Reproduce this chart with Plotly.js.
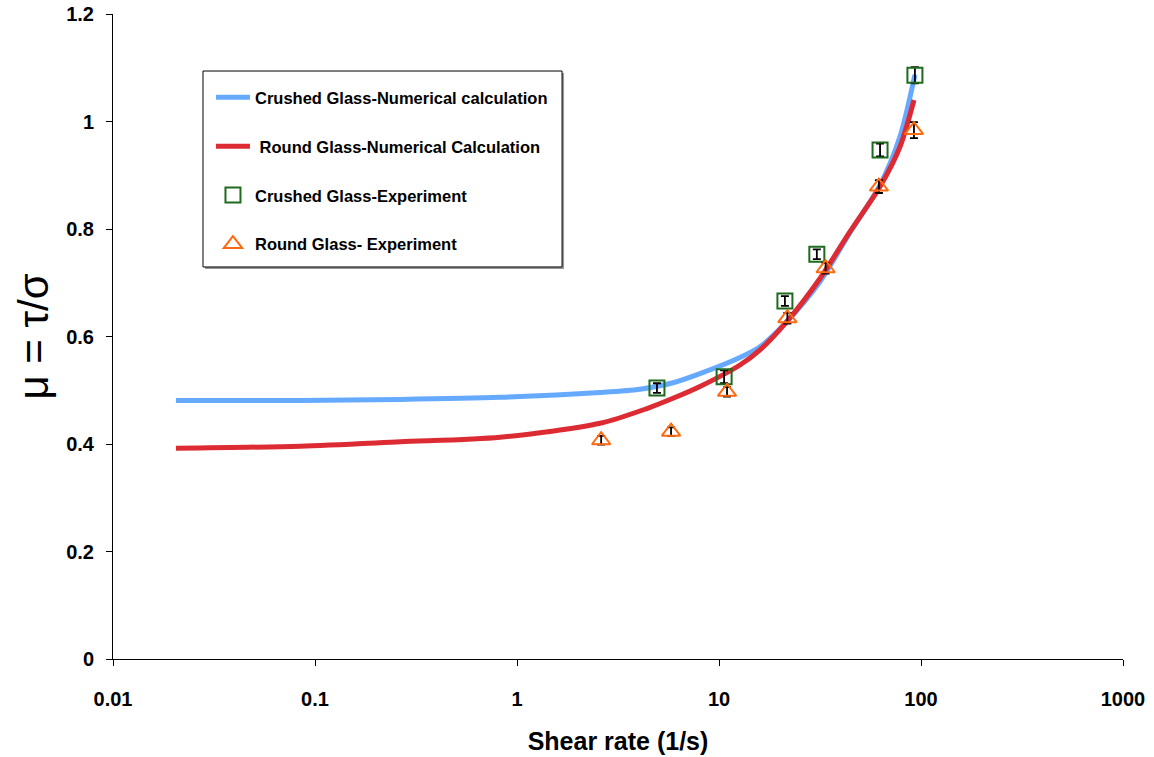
<!DOCTYPE html>
<html>
<head>
<meta charset="utf-8">
<script src="https://cdn.plot.ly/plotly-3.0.1.min.js"></script>
<style>html,body{margin:0;padding:0;background:#fff;}#chart{width:1154px;height:757px;}</style>
</head>
<body>
<div id="chart"></div>
<script>
// Numerical calculation curves
const crushedCalcX = [0.0205, 0.0844, 0.264, 0.824, 2.58, 4.06, 5.92, 8.05, 12.7, 15.96, 21.7, 31.6, 44.5, 62.7, 78.7, 93.3];
const crushedCalcY = [0.481, 0.481, 0.483, 0.487, 0.496, 0.502, 0.514, 0.531, 0.561, 0.581, 0.628, 0.702, 0.793, 0.882, 0.972, 1.087];
const roundCalcX = [0.0205, 0.0844, 0.264, 0.824, 2.58, 4.40, 5.92, 8.05, 12.7, 15.96, 21.7, 31.6, 44.5, 62.7, 78.7, 92.3];
const roundCalcY = [0.392, 0.396, 0.404, 0.4125, 0.4385, 0.466, 0.485, 0.507, 0.547, 0.575, 0.628, 0.708, 0.795, 0.879, 0.953, 1.04];
// Experiments
const crushedExpX = [4.93, 10.6, 21.2, 30.5, 62.7, 93.3];
const crushedExpY = [0.504, 0.525, 0.666, 0.753, 0.947, 1.086];
const crushedExpErr = [0.009, 0.012, 0.009, 0.009, 0.012, 0.015];
const roundExpX = [2.61, 5.79, 10.96, 21.8, 33.7, 61.9, 92.3];
const roundExpY = [0.407, 0.423, 0.497, 0.634, 0.727, 0.879, 0.984];
const roundExpErr = [0.008, 0.008, 0.009, 0.01, 0.01, 0.012, 0.015];
// Ticks
const xTickVals = [0.01, 0.1, 1, 10, 100, 1000];
const xTickText = ['0.01', '0.1', '1', '10', '100', '1000'];
const yTickVals = [0, 0.2, 0.4, 0.6, 0.8, 1, 1.2];
const yTickText = ['0', '0.2', '0.4', '0.6', '0.8', '1', '1.2'];

const FONT = 'Liberation Sans, Arial, sans-serif';

const traces = [
  {x: crushedCalcX, y: crushedCalcY, type: 'scatter', mode: 'lines', name: 'Crushed Glass-Numerical calculation',
   line: {color: '#66AAFF', width: 5, shape: 'spline', smoothing: 0.8}, legendgroup: 'a'},
  {x: roundCalcX, y: roundCalcY, type: 'scatter', mode: 'lines', name: ' Round Glass-Numerical Calculation',
   line: {color: '#DD2B33', width: 5, shape: 'spline', smoothing: 0.8}, legendgroup: 'b'},
  {x: crushedExpX, y: crushedExpY, type: 'scatter', mode: 'markers', name: 'Crushed Glass-Experiment',
   marker: {symbol: 'square-open', size: 15, color: '#1E6B1E', line: {width: 2}},
   error_y: {type: 'data', array: crushedExpErr, visible: true, color: '#000', thickness: 1.8, width: 4}, legendgroup: 'c'},
  {x: roundExpX, y: roundExpY, type: 'scatter', mode: 'markers', name: 'Round Glass- Experiment',
   marker: {symbol: 'triangle-up-open', size: 16, color: '#FF6A10', line: {width: 2}},
   error_y: {type: 'data', array: roundExpErr, visible: true, color: '#000', thickness: 1.8, width: 4}, legendgroup: 'd'}
];

const layout = {
  width: 1154, height: 757,
  margin: {l: 113, r: 31, t: 14, b: 98},
  paper_bgcolor: '#fff', plot_bgcolor: '#fff',
  font: {family: FONT, color: '#000'},
  showlegend: true,
  legend: {x: 0.097, y: 0.8977, xanchor: 'left', yanchor: 'top',
    bgcolor: 'rgba(0,0,0,0)', borderwidth: 0, itemwidth: 34,
    font: {family: FONT, size: 16.5, color: '#000', weight: 'bold'},
    tracegroupgap: 24.5, traceorder: 'grouped'},
  shapes: [
    {type: 'rect', xref: 'paper', yref: 'paper', x0: 0.0911, x1: 0.4466, y0: 0.6047, y1: 0.9085,
     line: {width: 0}, fillcolor: '#9a9a9a', layer: 'below'},
    {type: 'rect', xref: 'paper', yref: 'paper', x0: 0.0891, x1: 0.4446, y0: 0.6078, y1: 0.9116,
     line: {width: 1, color: '#000'}, fillcolor: '#fff', layer: 'below'}
  ],
  xaxis: {type: 'log', range: [-2, 3], tickvals: xTickVals, ticktext: xTickText,
    ticks: 'outside', ticklen: 6, tickcolor: '#000', tickwidth: 1,
    showline: true, linecolor: '#000', linewidth: 1, showgrid: false, zeroline: false,
    tickfont: {family: FONT, size: 20, weight: 'bold', color: '#000'},
    ticklabelstandoff: 16,
    title: {text: 'Shear rate (1/s)', font: {family: FONT, size: 25, weight: 'bold', color: '#000'}, standoff: 23},
    automargin: false},
  yaxis: {range: [0, 1.2], tickvals: yTickVals, ticktext: yTickText,
    ticks: 'outside', ticklen: 6, tickcolor: '#000', tickwidth: 1,
    showline: true, linecolor: '#000', linewidth: 1, showgrid: false, zeroline: false,
    tickfont: {family: FONT, size: 20, weight: 'bold', color: '#000'},
    ticklabelstandoff: 8,
    title: {text: 'μ = τ/σ', font: {family: FONT, size: 42, color: '#000'}, standoff: 4},
    automargin: false}
};

Plotly.newPlot('chart', traces, layout, {displayModeBar: false, staticPlot: true});
</script>
</body>
</html>
